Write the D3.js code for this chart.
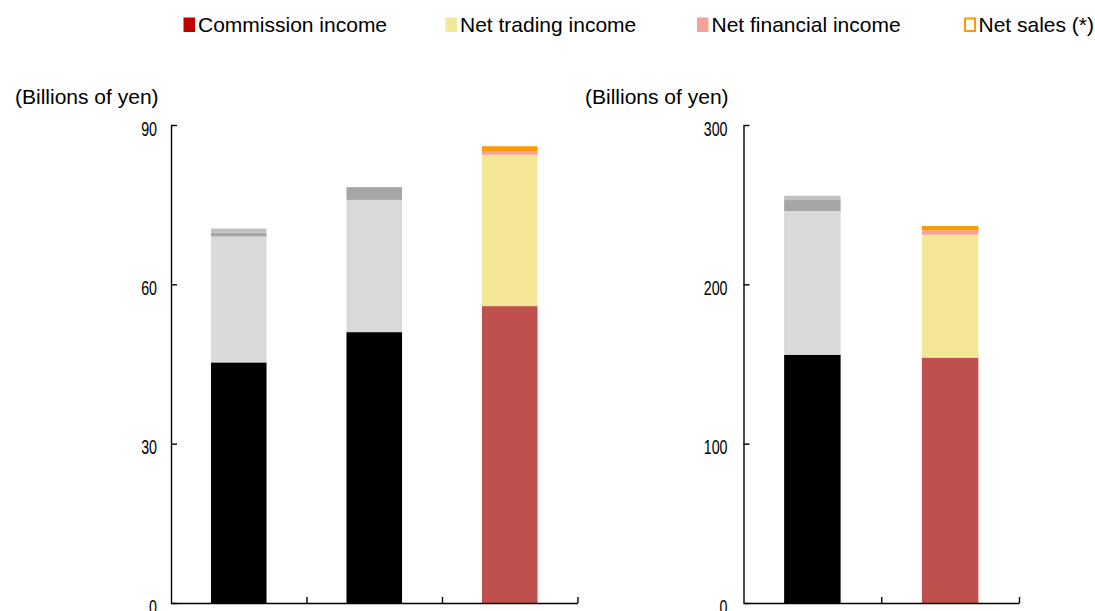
<!DOCTYPE html>
<html>
<head>
<meta charset="utf-8">
<script src="https://cdn.jsdelivr.net/npm/d3@7"></script>
<style>
  html, body { margin: 0; padding: 0; background: #fff; }
  svg { display: block; }
  text { font-family: "Liberation Sans", Arial, sans-serif; fill: #000; }
</style>
</head>
<body>
<svg id="chart" width="1095" height="611"></svg>
<script>
// Revenue components, stacked bottom to top
const seriesKeys = ["commission", "trading", "financial", "sales"];
const legendLabels = ["Commission income", "Net trading income", "Net financial income", "Net sales (*)"];

// Left panel: three periods
const leftPeriods = ["Period 1", "Period 2", "Period 3"];
const leftCommission = [45.3, 51.0, 55.9];
const leftTrading    = [23.7, 24.9, 28.5];
const leftFinancial  = [0.75, 2.4, 0.7];
const leftSales      = [0.75, 0.0, 0.9];
const leftHighlight  = [false, false, true];
const leftTicks = [0, 30, 60, 90];

// Right panel: two periods
const rightPeriods = ["Period A", "Period B"];
const rightCommission = [155.8, 154.0];
const rightTrading    = [90.2, 77.2];
const rightFinancial  = [6.9, 2.7];
const rightSales      = [2.7, 2.7];
const rightHighlight  = [false, true];
const rightTicks = [0, 100, 200, 300];

const unitLabel = "(Billions of yen)";

// Palettes: current period in colour, earlier periods in greys
const colourFill = ["#C0504D", "#F5E696", "#F4A196", "#FF9900"];
const greyFill   = ["#000000", "#D9D9D9", "#A6A6A6", "#C0C0C0"];
const legendFill = ["#C00000", "#F5E79A", "#F4A196", "none"];
const legendStroke = [null, null, null, "#FF9900"];

const svg = d3.select("#chart");

function buildRows(periods, cols, highlight) {
  return periods.map((p, i) => {
    const row = { period: p, highlight: highlight[i] };
    seriesKeys.forEach((k, j) => { row[k] = cols[j][i]; });
    return row;
  });
}

function drawPanel(cfg) {
  const rows = buildRows(cfg.periods, cfg.cols, cfg.highlight);
  const g = svg.append("g");

  const x = d3.scaleBand()
    .domain(cfg.periods)
    .range([cfg.x0, cfg.x1])
    .paddingInner(0.59)
    .paddingOuter(0.295);

  const y = d3.scaleLinear()
    .domain([0, cfg.max])
    .range([cfg.yBase, cfg.yTop]);

  const stacked = d3.stack().keys(seriesKeys)(rows);

  stacked.forEach((layer, j) => {
    g.append("g")
      .selectAll("rect")
      .data(layer.filter(d => d[1] - d[0] > 0))
      .join("rect")
      .attr("x", d => x(d.data.period))
      .attr("width", x.bandwidth())
      .attr("y", d => y(d[1]))
      .attr("height", d => y(d[0]) - y(d[1]))
      .attr("fill", d => d.data.highlight ? colourFill[j] : greyFill[j]);
  });

  // Category axis: ticks at the boundaries between periods, pointing up
  const xb = d3.scaleLinear().domain([0, cfg.periods.length]).range([cfg.x0, cfg.x1]);
  const xAxis = g.append("g")
    .attr("transform", `translate(0,${cfg.yBase})`)
    .call(d3.axisBottom(xb)
      .tickValues(d3.range(1, cfg.periods.length + 1))
      .tickSize(-6)
      .tickSizeOuter(0)
      .tickFormat(""));

  // Value axis with inward ticks
  const yAxis = g.append("g")
    .attr("transform", `translate(${cfg.x0},0)`)
    .call(d3.axisLeft(y)
      .tickValues(cfg.ticks)
      .tickSize(-6)
      .tickSizeOuter(0)
      .tickFormat(d3.format("d")));

  [xAxis, yAxis].forEach(a => {
    a.select(".domain").attr("stroke", "#000").attr("stroke-width", 1.4);
    a.selectAll(".tick line").attr("stroke", "#000").attr("stroke-width", 1.4);
  });

  const sx = 0.73;
  yAxis.attr("font-size", null).attr("font-family", null);
  yAxis.selectAll(".tick text")
    .attr("font-size", 19.5)
    .attr("text-anchor", "end")
    .attr("x", -cfg.labelGap / sx)
    .attr("dy", null)
    .attr("y", 10)
    .attr("transform", `scale(${sx},1)`);

  g.append("text")
    .attr("x", cfg.unitX)
    .attr("y", 103.5)
    .attr("font-size", 21)
    .text(unitLabel);
}

drawPanel({
  periods: leftPeriods,
  cols: [leftCommission, leftTrading, leftFinancial, leftSales],
  highlight: leftHighlight,
  ticks: leftTicks,
  max: 90,
  x0: 171, x1: 577.5, yTop: 125, yBase: 603,
  labelGap: 14, unitX: 15
});

drawPanel({
  periods: rightPeriods,
  cols: [rightCommission, rightTrading, rightFinancial, rightSales],
  highlight: rightHighlight,
  ticks: rightTicks,
  max: 300,
  x0: 743.5, x1: 1019, yTop: 125, yBase: 603,
  labelGap: 16, unitX: 585
});

// Legend
const legendSquareX = [183.5, 445.5, 697, 964];
const legend = svg.append("g");
legendLabels.forEach((lab, i) => {
  const item = legend.append("g").attr("transform", `translate(${legendSquareX[i]},0)`);
  if (legendStroke[i]) {
    item.append("rect")
      .attr("x", 1).attr("y", 18.5).attr("width", 10).attr("height", 12.5)
      .attr("fill", "none").attr("stroke", legendStroke[i]).attr("stroke-width", 2);
  } else {
    item.append("rect")
      .attr("x", 0).attr("y", 17.5).attr("width", 11.5).attr("height", 14.5)
      .attr("fill", legendFill[i]);
  }
  item.append("text")
    .attr("x", 14.5)
    .attr("y", 32)
    .attr("font-size", 21)
    .text(lab);
});
</script>
</body>
</html>
